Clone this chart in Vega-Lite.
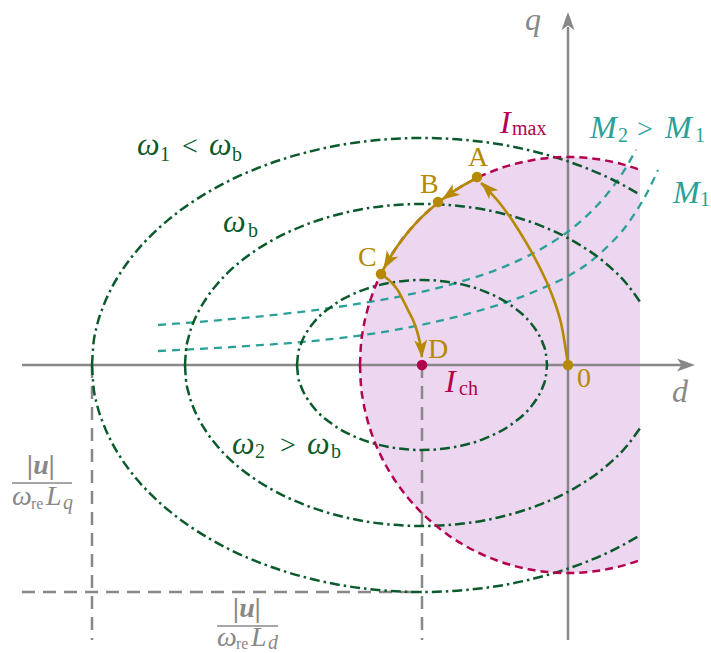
{
  "$schema": "https://vega.github.io/schema/vega-lite/v6.json",
  "width": 711,
  "height": 653,
  "autosize": "none",
  "padding": 0,
  "background": "white",
  "config": {"view": {"stroke": null}},
  "datasets": {
    "circ": [
      {"x": 72, "yt": 195.1, "yb": -195.1},
      {"x": 53.8, "yt": 200.9, "yb": -200.9},
      {"x": 36.1, "yt": 204.8, "yb": -204.8},
      {"x": 18.1, "yt": 207.2, "yb": -207.2},
      {"x": 0, "yt": 208, "yb": -208},
      {"x": -18.1, "yt": 207.2, "yb": -207.2},
      {"x": -36.1, "yt": 204.8, "yb": -204.8},
      {"x": -53.8, "yt": 200.9, "yb": -200.9},
      {"x": -71.1, "yt": 195.5, "yb": -195.5},
      {"x": -87.9, "yt": 188.5, "yb": -188.5},
      {"x": -104, "yt": 180.1, "yb": -180.1},
      {"x": -119.3, "yt": 170.4, "yb": -170.4},
      {"x": -133.7, "yt": 159.3, "yb": -159.3},
      {"x": -147.1, "yt": 147.1, "yb": -147.1},
      {"x": -159.3, "yt": 133.7, "yb": -133.7},
      {"x": -170.4, "yt": 119.3, "yb": -119.3},
      {"x": -180.1, "yt": 104, "yb": -104},
      {"x": -188.5, "yt": 87.9, "yb": -87.9},
      {"x": -195.5, "yt": 71.1, "yb": -71.1},
      {"x": -200.9, "yt": 53.8, "yb": -53.8},
      {"x": -204.8, "yt": 36.1, "yb": -36.1},
      {"x": -207.2, "yt": 18.1, "yb": -18.1},
      {"x": -208, "yt": 0, "yb": 0}
    ],
    "ell": [
      {"e": "o", "x": -476, "yt": 0, "yb": 0},
      {"e": "o", "x": -474.7, "yt": 19.8, "yb": -19.8},
      {"e": "o", "x": -471, "yt": 39.4, "yb": -39.4},
      {"e": "o", "x": -464.7, "yt": 58.7, "yb": -58.7},
      {"e": "o", "x": -456.1, "yt": 77.6, "yb": -77.6},
      {"e": "o", "x": -445.1, "yt": 95.9, "yb": -95.9},
      {"e": "o", "x": -431.8, "yt": 113.5, "yb": -113.5},
      {"e": "o", "x": -416.3, "yt": 130.2, "yb": -130.2},
      {"e": "o", "x": -398.8, "yt": 145.9, "yb": -145.9},
      {"e": "o", "x": -379.3, "yt": 160.5, "yb": -160.5},
      {"e": "o", "x": -358.1, "yt": 173.9, "yb": -173.9},
      {"e": "o", "x": -335.3, "yt": 186, "yb": -186},
      {"e": "o", "x": -311, "yt": 196.6, "yb": -196.6},
      {"e": "o", "x": -258.9, "yt": 213.3, "yb": -213.3},
      {"e": "o", "x": -203.3, "yt": 223.6, "yb": -223.6},
      {"e": "o", "x": -146, "yt": 227, "yb": -227},
      {"e": "o", "x": -88.7, "yt": 223.6, "yb": -223.6},
      {"e": "o", "x": -33.1, "yt": 213.3, "yb": -213.3},
      {"e": "o", "x": 19, "yt": 196.6, "yb": -196.6},
      {"e": "o", "x": 43.3, "yt": 186, "yb": -186},
      {"e": "o", "x": 72, "yt": 170.4, "yb": -170.4},
      {"e": "m", "x": -383, "yt": 0, "yb": 0},
      {"e": "m", "x": -382.1, "yt": 14, "yb": -14},
      {"e": "m", "x": -379.4, "yt": 27.9, "yb": -27.9},
      {"e": "m", "x": -374.9, "yt": 41.7, "yb": -41.7},
      {"e": "m", "x": -368.7, "yt": 55.1, "yb": -55.1},
      {"e": "m", "x": -360.8, "yt": 68, "yb": -68},
      {"e": "m", "x": -351.2, "yt": 80.5, "yb": -80.5},
      {"e": "m", "x": -340.2, "yt": 92.3, "yb": -92.3},
      {"e": "m", "x": -327.5, "yt": 103.5, "yb": -103.5},
      {"e": "m", "x": -313.6, "yt": 113.8, "yb": -113.8},
      {"e": "m", "x": -298.3, "yt": 123.3, "yb": -123.3},
      {"e": "m", "x": -264.5, "yt": 139.4, "yb": -139.4},
      {"e": "m", "x": -227, "yt": 151.3, "yb": -151.3},
      {"e": "m", "x": -187.1, "yt": 158.6, "yb": -158.6},
      {"e": "m", "x": -146, "yt": 161, "yb": -161},
      {"e": "m", "x": -104.9, "yt": 158.6, "yb": -158.6},
      {"e": "m", "x": -65, "yt": 151.3, "yb": -151.3},
      {"e": "m", "x": -27.5, "yt": 139.4, "yb": -139.4},
      {"e": "m", "x": 6.3, "yt": 123.3, "yb": -123.3},
      {"e": "m", "x": 35.5, "yt": 103.5, "yb": -103.5},
      {"e": "m", "x": 59.2, "yt": 80.5, "yb": -80.5},
      {"e": "m", "x": 72, "yt": 63.2, "yb": -63.2},
      {"e": "i", "x": -271, "yt": 0, "yb": 0},
      {"e": "i", "x": -269.9, "yt": 11.1, "yb": -11.1},
      {"e": "i", "x": -266.7, "yt": 22, "yb": -22},
      {"e": "i", "x": -261.5, "yt": 32.5, "yb": -32.5},
      {"e": "i", "x": -254.3, "yt": 42.5, "yb": -42.5},
      {"e": "i", "x": -234.4, "yt": 60.1, "yb": -60.1},
      {"e": "i", "x": -208.5, "yt": 73.6, "yb": -73.6},
      {"e": "i", "x": -178.4, "yt": 82.1, "yb": -82.1},
      {"e": "i", "x": -146, "yt": 85, "yb": -85},
      {"e": "i", "x": -113.6, "yt": 82.1, "yb": -82.1},
      {"e": "i", "x": -83.5, "yt": 73.6, "yb": -73.6},
      {"e": "i", "x": -57.6, "yt": 60.1, "yb": -60.1},
      {"e": "i", "x": -37.7, "yt": 42.5, "yb": -42.5},
      {"e": "i", "x": -30.5, "yt": 32.5, "yb": -32.5},
      {"e": "i", "x": -25.3, "yt": 22, "yb": -22},
      {"e": "i", "x": -22.1, "yt": 11.1, "yb": -11.1},
      {"e": "i", "x": -21, "yt": 0, "yb": 0}
    ],
    "torque": [
      {"m": "M2", "x": -410, "y": 40},
      {"m": "M2", "x": -350, "y": 44.7},
      {"m": "M2", "x": -290, "y": 50.5},
      {"m": "M2", "x": -230, "y": 58.1},
      {"m": "M2", "x": -170, "y": 68.2},
      {"m": "M2", "x": -110, "y": 82.5},
      {"m": "M2", "x": -60, "y": 99.9},
      {"m": "M2", "x": -20, "y": 120.1},
      {"m": "M2", "x": 10, "y": 141.4},
      {"m": "M2", "x": 35, "y": 166},
      {"m": "M2", "x": 55, "y": 192.7},
      {"m": "M2", "x": 68, "y": 215.2},
      {"m": "M1", "x": -410, "y": 14},
      {"m": "M1", "x": -328, "y": 18.5},
      {"m": "M1", "x": -245, "y": 25},
      {"m": "M1", "x": -191, "y": 32},
      {"m": "M1", "x": -138, "y": 42},
      {"m": "M1", "x": -90, "y": 54},
      {"m": "M1", "x": -55, "y": 65},
      {"m": "M1", "x": -25, "y": 77},
      {"m": "M1", "x": 2, "y": 90},
      {"m": "M1", "x": 22, "y": 103},
      {"m": "M1", "x": 39, "y": 118},
      {"m": "M1", "x": 55, "y": 135},
      {"m": "M1", "x": 69, "y": 155},
      {"m": "M1", "x": 80, "y": 174},
      {"m": "M1", "x": 90, "y": 195}
    ],
    "gold": [
      {"s": "0A", "i": 0, "x": 0, "y": 0},
      {"s": "0A", "i": 1, "x": -3, "y": 20},
      {"s": "0A", "i": 2, "x": -7, "y": 42},
      {"s": "0A", "i": 3, "x": -13, "y": 62},
      {"s": "0A", "i": 4, "x": -20, "y": 80},
      {"s": "0A", "i": 5, "x": -28, "y": 97},
      {"s": "0A", "i": 6, "x": -37, "y": 114},
      {"s": "0A", "i": 7, "x": -47, "y": 131},
      {"s": "0A", "i": 8, "x": -58, "y": 148},
      {"s": "0A", "i": 9, "x": -70, "y": 164},
      {"s": "0A", "i": 10, "x": -80, "y": 175},
      {"s": "0A", "i": 11, "x": -87, "y": 182},
      {"s": "AC", "i": 0, "x": -90.6, "y": 187.2},
      {"s": "AC", "i": 1, "x": -104, "y": 180.1},
      {"s": "AC", "i": 2, "x": -119.3, "y": 170.4},
      {"s": "AC", "i": 3, "x": -133.7, "y": 159.3},
      {"s": "AC", "i": 4, "x": -147.1, "y": 147.1},
      {"s": "AC", "i": 5, "x": -159.3, "y": 133.7},
      {"s": "AC", "i": 6, "x": -170.4, "y": 119.3},
      {"s": "AC", "i": 7, "x": -180.1, "y": 104},
      {"s": "AC", "i": 8, "x": -186.9, "y": 91.2},
      {"s": "CD", "i": 0, "x": -187, "y": 91},
      {"s": "CD", "i": 1, "x": -178, "y": 84},
      {"s": "CD", "i": 2, "x": -171, "y": 76},
      {"s": "CD", "i": 3, "x": -165, "y": 65},
      {"s": "CD", "i": 4, "x": -160, "y": 55},
      {"s": "CD", "i": 5, "x": -155, "y": 45},
      {"s": "CD", "i": 6, "x": -151, "y": 34},
      {"s": "CD", "i": 7, "x": -148, "y": 22},
      {"s": "CD", "i": 8, "x": -146, "y": 8}
    ],
    "heads": [
      {"c": "gold", "x": -87, "y": 183, "dir": 315},
      {"c": "gold", "x": -126.3, "y": 165.2, "dir": 235},
      {"c": "gold", "x": -184.5, "y": 96, "dir": 210},
      {"c": "gold", "x": -146, "y": 7, "dir": 176},
      {"c": "gray", "x": 127, "y": 0, "dir": 90},
      {"c": "gray", "x": 0, "y": 353, "dir": 0}
    ],
    "segs": [
      {"k": "axis", "x": -546, "y": 0, "x2": 118, "y2": 0},
      {"k": "axis", "x": 0, "y": -275, "x2": 0, "y2": 338},
      {"k": "guide", "x": -476, "y": 0, "x2": -476, "y2": -275},
      {"k": "guide", "x": -546, "y": -227, "x2": -146, "y2": -227},
      {"k": "guide", "x": -146, "y": 0, "x2": -146, "y2": -275},
      {"k": "bar", "x": -556, "y": -118, "x2": -496, "y2": -118},
      {"k": "bar", "x": -351, "y": -261, "x2": -290, "y2": -261}
    ],
    "dots": [
      {"p": "A", "c": "gold", "x": -91, "y": 188},
      {"p": "B", "c": "gold", "x": -130, "y": 163},
      {"p": "C", "c": "gold", "x": -187, "y": 91},
      {"p": "0", "c": "gold", "x": 0, "y": 0},
      {"p": "D", "c": "crimson", "x": -146, "y": 0}
    ],
    "labels": [
      {"t": "A", "st": "u", "lv": "main", "c": "gold", "x": -100, "y": 199},
      {"t": "B", "st": "u", "lv": "main", "c": "gold", "x": -148, "y": 172},
      {"t": "C", "st": "u", "lv": "main", "c": "gold", "x": -210, "y": 99},
      {"t": "D", "st": "u", "lv": "main", "c": "gold", "x": -140, "y": 7},
      {"t": "0", "st": "u", "lv": "main", "c": "gold", "x": 9, "y": -22},
      {"t": "<", "st": "u", "lv": "main", "c": "green", "x": -386, "y": 210},
      {"t": ">", "st": "u", "lv": "main", "c": "green", "x": -288, "y": -89},
      {"t": ">", "st": "u", "lv": "main", "c": "teal", "x": 69, "y": 227},
      {"t": "1", "st": "u", "lv": "sub", "c": "green", "x": -408, "y": 204},
      {"t": "b", "st": "u", "lv": "sub", "c": "green", "x": -336, "y": 204},
      {"t": "b", "st": "u", "lv": "sub", "c": "green", "x": -320, "y": 128},
      {"t": "2", "st": "u", "lv": "sub", "c": "green", "x": -313, "y": -93},
      {"t": "b", "st": "u", "lv": "sub", "c": "green", "x": -237, "y": -93},
      {"t": "2", "st": "u", "lv": "sub", "c": "teal", "x": 50, "y": 223},
      {"t": "1", "st": "u", "lv": "sub", "c": "teal", "x": 127, "y": 223},
      {"t": "1", "st": "u", "lv": "sub", "c": "teal", "x": 132, "y": 159},
      {"t": "max", "st": "u", "lv": "sub", "c": "crimson", "x": -56, "y": 230},
      {"t": "ch", "st": "u", "lv": "sub", "c": "crimson", "x": -109, "y": -30},
      {"t": "re", "st": "u", "lv": "fsub", "c": "gray", "x": -537, "y": -144},
      {"t": "re", "st": "u", "lv": "fsub", "c": "gray", "x": -332, "y": -284},
      {"t": "ω", "st": "i", "lv": "imain", "c": "green", "x": -431, "y": 210},
      {"t": "ω", "st": "i", "lv": "imain", "c": "green", "x": -359, "y": 210},
      {"t": "ω", "st": "i", "lv": "imain", "c": "green", "x": -345, "y": 133},
      {"t": "ω", "st": "i", "lv": "imain", "c": "green", "x": -336, "y": -89},
      {"t": "ω", "st": "i", "lv": "imain", "c": "green", "x": -261, "y": -89},
      {"t": "M", "st": "i", "lv": "imain", "c": "teal", "x": 22, "y": 227},
      {"t": "M", "st": "i", "lv": "imain", "c": "teal", "x": 97, "y": 227},
      {"t": "M", "st": "i", "lv": "imain", "c": "teal", "x": 105, "y": 162},
      {"t": "I", "st": "i", "lv": "imain", "c": "crimson", "x": -68, "y": 232},
      {"t": "I", "st": "i", "lv": "imain", "c": "crimson", "x": -123, "y": -27},
      {"t": "d", "st": "i", "lv": "imain", "c": "gray", "x": 104, "y": -37},
      {"t": "q", "st": "i", "lv": "imain", "c": "gray", "x": -43, "y": 335},
      {"t": "ω", "st": "i", "lv": "fmain", "c": "gray", "x": -556, "y": -140},
      {"t": "L", "st": "i", "lv": "fmain", "c": "gray", "x": -522, "y": -140},
      {"t": "ω", "st": "i", "lv": "fmain", "c": "gray", "x": -351, "y": -281},
      {"t": "L", "st": "i", "lv": "fmain", "c": "gray", "x": -317, "y": -281},
      {"t": "q", "st": "i", "lv": "fsub2", "c": "gray", "x": -505, "y": -144},
      {"t": "d", "st": "i", "lv": "fsub2", "c": "gray", "x": -300, "y": -284},
      {"t": "|u|", "st": "b", "lv": "fmain", "c": "gray", "x": -541, "y": -109},
      {"t": "|u|", "st": "b", "lv": "fmain", "c": "gray", "x": -335, "y": -252}
    ]
  },
  "layer": [
    {
      "data": {"name": "circ"},
      "mark": {"type": "area", "color": "#ecd6f0", "opacity": 1},
      "encoding": {
        "x": {"field": "x", "type": "quantitative", "scale": {"domain": [-568, 143], "nice": false, "zero": false}, "axis": null},
        "y": {"field": "yt", "type": "quantitative", "scale": {"domain": [-288, 365], "nice": false, "zero": false}, "axis": null},
        "y2": {"field": "yb"}
      }
    },
    {
      "data": {"name": "segs"},
      "transform": [{"filter": "datum.k === 'guide'"}],
      "mark": {"type": "rule", "color": "#888888", "strokeWidth": 2.5, "strokeDash": [13, 8]},
      "encoding": {
        "x": {"field": "x", "type": "quantitative", "scale": {"domain": [-568, 143], "nice": false, "zero": false}, "axis": null},
        "y": {"field": "y", "type": "quantitative", "scale": {"domain": [-288, 365], "nice": false, "zero": false}, "axis": null},
        "x2": {"field": "x2"},
        "y2": {"field": "y2"}
      }
    },
    {
      "data": {"name": "segs"},
      "transform": [{"filter": "datum.k === 'axis'"}],
      "mark": {"type": "rule", "color": "#888888", "strokeWidth": 2.5},
      "encoding": {
        "x": {"field": "x", "type": "quantitative", "scale": {"domain": [-568, 143], "nice": false, "zero": false}, "axis": null},
        "y": {"field": "y", "type": "quantitative", "scale": {"domain": [-288, 365], "nice": false, "zero": false}, "axis": null},
        "x2": {"field": "x2"},
        "y2": {"field": "y2"}
      }
    },
    {
      "data": {"name": "segs"},
      "transform": [{"filter": "datum.k === 'bar'"}],
      "mark": {"type": "rule", "color": "#888888", "strokeWidth": 1.3},
      "encoding": {
        "x": {"field": "x", "type": "quantitative", "scale": {"domain": [-568, 143], "nice": false, "zero": false}, "axis": null},
        "y": {"field": "y", "type": "quantitative", "scale": {"domain": [-288, 365], "nice": false, "zero": false}, "axis": null},
        "x2": {"field": "x2"},
        "y2": {"field": "y2"}
      }
    },
    {
      "data": {"name": "torque"},
      "mark": {"type": "line", "color": "#2aa198", "strokeWidth": 2.3, "strokeDash": [8, 6], "interpolate": "monotone"},
      "encoding": {
        "x": {"field": "x", "type": "quantitative", "scale": {"domain": [-568, 143], "nice": false, "zero": false}, "axis": null},
        "y": {"field": "y", "type": "quantitative", "scale": {"domain": [-288, 365], "nice": false, "zero": false}, "axis": null},
        "detail": {"field": "m"}
      }
    },
    {
      "data": {"name": "ell"},
      "mark": {"type": "line", "color": "#0b5a2c", "strokeWidth": 2.5, "strokeDash": [10, 4, 2.5, 4], "interpolate": "monotone"},
      "encoding": {
        "x": {"field": "x", "type": "quantitative", "scale": {"domain": [-568, 143], "nice": false, "zero": false}, "axis": null},
        "y": {"field": "yt", "type": "quantitative", "scale": {"domain": [-288, 365], "nice": false, "zero": false}, "axis": null},
        "detail": {"field": "e"}
      }
    },
    {
      "data": {"name": "ell"},
      "mark": {"type": "line", "color": "#0b5a2c", "strokeWidth": 2.5, "strokeDash": [10, 4, 2.5, 4], "interpolate": "monotone"},
      "encoding": {
        "x": {"field": "x", "type": "quantitative", "scale": {"domain": [-568, 143], "nice": false, "zero": false}, "axis": null},
        "y": {"field": "yb", "type": "quantitative", "scale": {"domain": [-288, 365], "nice": false, "zero": false}, "axis": null},
        "detail": {"field": "e"}
      }
    },
    {
      "data": {"name": "circ"},
      "mark": {"type": "line", "color": "#b3004f", "strokeWidth": 2.5, "strokeDash": [8, 5], "interpolate": "monotone"},
      "encoding": {
        "x": {"field": "x", "type": "quantitative", "scale": {"domain": [-568, 143], "nice": false, "zero": false}, "axis": null},
        "y": {"field": "yt", "type": "quantitative", "scale": {"domain": [-288, 365], "nice": false, "zero": false}, "axis": null}
      }
    },
    {
      "data": {"name": "circ"},
      "mark": {"type": "line", "color": "#b3004f", "strokeWidth": 2.5, "strokeDash": [8, 5], "interpolate": "monotone"},
      "encoding": {
        "x": {"field": "x", "type": "quantitative", "scale": {"domain": [-568, 143], "nice": false, "zero": false}, "axis": null},
        "y": {"field": "yb", "type": "quantitative", "scale": {"domain": [-288, 365], "nice": false, "zero": false}, "axis": null}
      }
    },
    {
      "data": {"name": "gold"},
      "mark": {"type": "line", "color": "#b58900", "strokeWidth": 2.6, "interpolate": "catmull-rom"},
      "encoding": {
        "x": {"field": "x", "type": "quantitative", "scale": {"domain": [-568, 143], "nice": false, "zero": false}, "axis": null},
        "y": {"field": "y", "type": "quantitative", "scale": {"domain": [-288, 365], "nice": false, "zero": false}, "axis": null},
        "detail": {"field": "s"},
        "order": {"field": "i", "type": "quantitative"}
      }
    },
    {
      "data": {"name": "heads"},
      "mark": {"type": "point", "filled": true, "opacity": 1, "size": 400, "strokeWidth": 0, "shape": "M0,0 L0.65,1.8 L0,1.35 L-0.65,1.8 Z"},
      "encoding": {
        "x": {"field": "x", "type": "quantitative", "scale": {"domain": [-568, 143], "nice": false, "zero": false}, "axis": null},
        "y": {"field": "y", "type": "quantitative", "scale": {"domain": [-288, 365], "nice": false, "zero": false}, "axis": null},
        "angle": {"field": "dir", "type": "quantitative", "scale": null},
        "color": {"field": "c", "type": "nominal", "legend": null, "scale": {"domain": ["gold", "green", "crimson", "teal", "gray"], "range": ["#b58900", "#0b5a2c", "#b3004f", "#2aa198", "#888888"]}}
      }
    },
    {
      "data": {"name": "dots"},
      "mark": {"type": "point", "filled": true, "opacity": 1, "size": 110, "shape": "circle"},
      "encoding": {
        "x": {"field": "x", "type": "quantitative", "scale": {"domain": [-568, 143], "nice": false, "zero": false}, "axis": null},
        "y": {"field": "y", "type": "quantitative", "scale": {"domain": [-288, 365], "nice": false, "zero": false}, "axis": null},
        "color": {"field": "c", "type": "nominal", "legend": null, "scale": {"domain": ["gold", "green", "crimson", "teal", "gray"], "range": ["#b58900", "#0b5a2c", "#b3004f", "#2aa198", "#888888"]}}
      }
    },
    {
      "data": {"name": "labels"},
      "transform": [{"filter": "datum.st === 'u'"}],
      "mark": {"type": "text", "font": "Liberation Serif", "align": "left", "baseline": "alphabetic"},
      "encoding": {
        "x": {"field": "x", "type": "quantitative", "scale": {"domain": [-568, 143], "nice": false, "zero": false}, "axis": null},
        "y": {"field": "y", "type": "quantitative", "scale": {"domain": [-288, 365], "nice": false, "zero": false}, "axis": null},
        "text": {"field": "t"},
        "size": {"field": "lv", "type": "nominal", "legend": null, "scale": {"type": "ordinal", "domain": ["main", "imain", "sub", "fmain", "fsub", "fsub2"], "range": [28, 32, 20, 28, 16, 20]}},
        "color": {"field": "c", "type": "nominal", "legend": null, "scale": {"domain": ["gold", "green", "crimson", "teal", "gray"], "range": ["#b58900", "#0b5a2c", "#b3004f", "#2aa198", "#888888"]}}
      }
    },
    {
      "data": {"name": "labels"},
      "transform": [{"filter": "datum.st === 'i'"}],
      "mark": {"type": "text", "font": "Liberation Serif", "fontStyle": "italic", "align": "left", "baseline": "alphabetic"},
      "encoding": {
        "x": {"field": "x", "type": "quantitative", "scale": {"domain": [-568, 143], "nice": false, "zero": false}, "axis": null},
        "y": {"field": "y", "type": "quantitative", "scale": {"domain": [-288, 365], "nice": false, "zero": false}, "axis": null},
        "text": {"field": "t"},
        "size": {"field": "lv", "type": "nominal", "legend": null, "scale": {"type": "ordinal", "domain": ["main", "imain", "sub", "fmain", "fsub", "fsub2"], "range": [28, 32, 20, 28, 16, 20]}},
        "color": {"field": "c", "type": "nominal", "legend": null, "scale": {"domain": ["gold", "green", "crimson", "teal", "gray"], "range": ["#b58900", "#0b5a2c", "#b3004f", "#2aa198", "#888888"]}}
      }
    },
    {
      "data": {"name": "labels"},
      "transform": [{"filter": "datum.st === 'b'"}],
      "mark": {"type": "text", "font": "Liberation Serif", "fontStyle": "italic", "fontWeight": "bold", "align": "left", "baseline": "alphabetic"},
      "encoding": {
        "x": {"field": "x", "type": "quantitative", "scale": {"domain": [-568, 143], "nice": false, "zero": false}, "axis": null},
        "y": {"field": "y", "type": "quantitative", "scale": {"domain": [-288, 365], "nice": false, "zero": false}, "axis": null},
        "text": {"field": "t"},
        "size": {"field": "lv", "type": "nominal", "legend": null, "scale": {"type": "ordinal", "domain": ["main", "imain", "sub", "fmain", "fsub", "fsub2"], "range": [28, 32, 20, 28, 16, 20]}},
        "color": {"field": "c", "type": "nominal", "legend": null, "scale": {"domain": ["gold", "green", "crimson", "teal", "gray"], "range": ["#b58900", "#0b5a2c", "#b3004f", "#2aa198", "#888888"]}}
      }
    }
  ]
}
